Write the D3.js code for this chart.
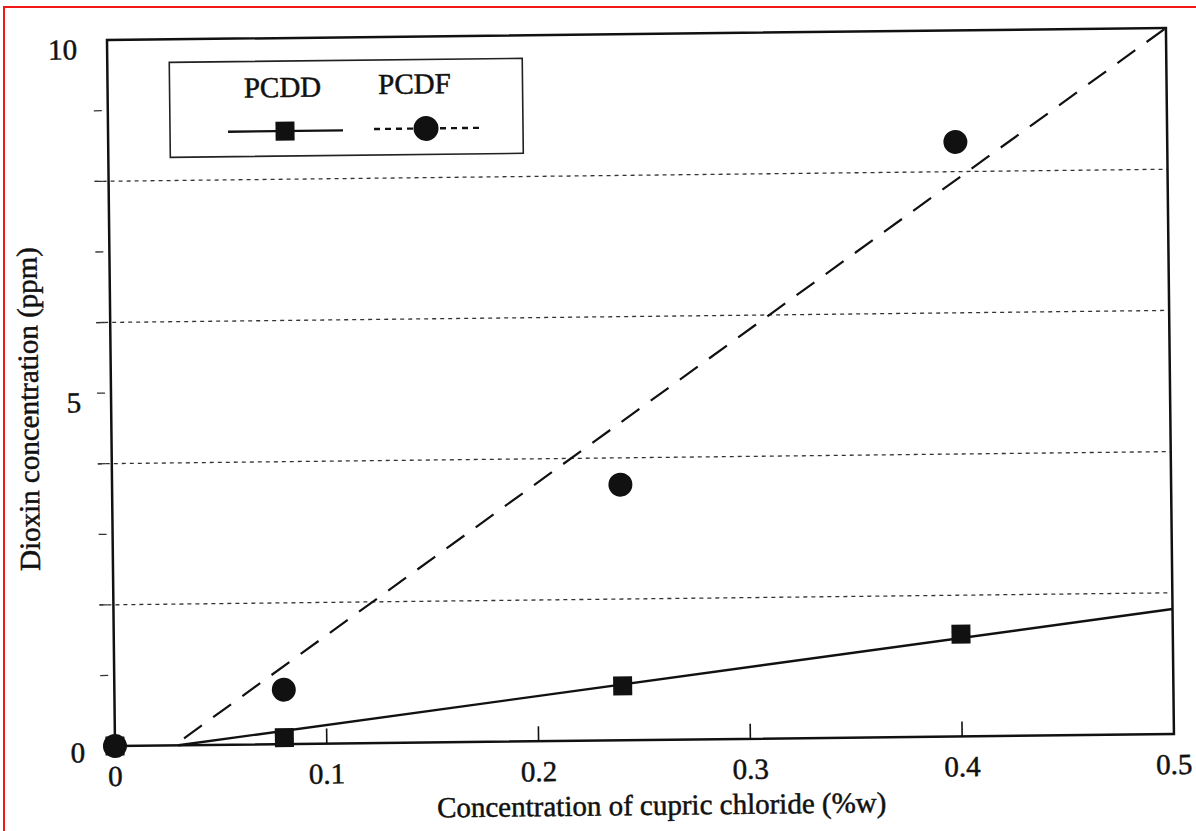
<!DOCTYPE html>
<html>
<head>
<meta charset="utf-8">
<script src="https://cdn.jsdelivr.net/npm/d3@7"></script>
<style>
	body { margin: 0; background: #fff; }
	svg { display: block; }
	text { font-family: 'Liberation Serif', 'Times New Roman', serif; fill: #111; stroke: #111; stroke-width: 0.5px; }
</style>
</head>
<body>
<div id="chart"></div>
<script>
// measured points (concentration of cupric chloride, %w)
const concentration = [0, 0.08, 0.24, 0.40];
const pcdd = [0, 0.09, 0.77, 1.45];
const pcdf = [0, 0.77, 3.62, 8.42];

// fitted lines, end points
const pcddFit = [[0.03, 0], [0.5, 1.77]];
const pcdfFit = [[0.028, 0], [0.5, 10]];

const xTicks = [0.1, 0.2, 0.3, 0.4];
const xLabels = [0, 0.1, 0.2, 0.3, 0.4, 0.5];
const yTicks = [1, 2, 3, 4, 5, 6, 7, 8, 9];
const yLabels = [0, 5, 10];
const yGrid = [2, 4, 6, 8];

const legendNames = ['PCDD', 'PCDF'];

const width = 1059;
const height = 706;
const fontSize = '29px';

const svg = d3
	.select('#chart')
	.append('svg')
	.attr('width', 1196)
	.attr('height', 831);

svg.append('rect').attr('width', 1196).attr('height', 831).style('fill', '#fff');

// red frame of the scan
svg
	.append('rect')
	.attr('x', 4)
	.attr('y', 7)
	.attr('width', 1400)
	.attr('height', 1000)
	.style('fill', 'none')
	.style('stroke', '#f01818')
	.style('stroke-width', 2);

// the scanned figure is slightly tilted
const g = svg
	.append('g')
	.attr('transform', `translate(115, 746) rotate(-0.65) translate(0, ${-height})`);

const xScale = d3.scaleLinear().domain([ 0, 0.5 ]).range([ 0, width ]);
const yScale = d3.scaleLinear().domain([ 0, 10 ]).range([ height, 0 ]);

// dotted grid
g
	.selectAll('.grid')
	.data(yGrid)
	.enter()
	.append('line')
	.attr('x1', -14)
	.attr('x2', width)
	.attr('y1', (d) => yScale(d))
	.attr('y2', (d) => yScale(d))
	.style('stroke', '#333')
	.style('stroke-width', 1.3)
	.style('stroke-dasharray', '4, 4');

// y ticks, detached from the axis
g
	.selectAll('.ytick')
	.data(yTicks)
	.enter()
	.append('line')
	.attr('x1', -14)
	.attr('x2', -6)
	.attr('y1', (d) => yScale(d))
	.attr('y2', (d) => yScale(d))
	.style('stroke', '#333')
	.style('stroke-width', 1.3);

// x ticks, inside
g
	.selectAll('.xtick')
	.data(xTicks)
	.enter()
	.append('line')
	.attr('x1', (d) => xScale(d))
	.attr('x2', (d) => xScale(d))
	.attr('y1', height)
	.attr('y2', height - 15)
	.style('stroke', '#111')
	.style('stroke-width', 1.6);

// frame
g
	.append('rect')
	.attr('width', width)
	.attr('height', height)
	.style('fill', 'none')
	.style('stroke', '#111')
	.style('stroke-width', 2.5);

// labels
g
	.selectAll('.xlabel')
	.data(xLabels)
	.enter()
	.append('text')
	.attr('x', (d) => xScale(d))
	.attr('y', height + 40)
	.attr('text-anchor', 'middle')
	.style('font-size', fontSize)
	.text((d) => d);

g
	.selectAll('.ylabel')
	.data(yLabels)
	.enter()
	.append('text')
	.attr('x', -30)
	.attr('y', (d) => yScale(d) + (d === 0 ? 16 : 19))
	.attr('text-anchor', 'end')
	.style('font-size', fontSize)
	.text((d) => d);

g
	.append('text')
	.attr('x', 546)
	.attr('y', height + 75)
	.attr('text-anchor', 'middle')
	.style('font-size', fontSize)
	.text('Concentration of cupric chloride (%w)');

g
	.append('text')
	.attr('transform', `translate(-73, ${height - 338}) rotate(-90)`)
	.attr('text-anchor', 'middle')
	.style('font-size', fontSize)
	.text('Dioxin concentration (ppm)');

// fitted lines
const line = d3.line().x((d) => xScale(d[0])).y((d) => yScale(d[1]));

g
	.append('path')
	.datum(pcddFit)
	.attr('d', line)
	.style('fill', 'none')
	.style('stroke', '#111')
	.style('stroke-width', 2.4);

g
	.append('path')
	.datum(pcdfFit)
	.attr('d', line)
	.style('fill', 'none')
	.style('stroke', '#111')
	.style('stroke-width', 2.2)
	.style('stroke-dasharray', '22, 14')
	.style('stroke-dashoffset', -12);

// markers
const squareSize = 19;

g
	.selectAll('.pcdd')
	.data(concentration)
	.enter()
	.append('rect')
	.attr('x', (d) => xScale(d) - squareSize / 2)
	.attr('y', (d, i) => yScale(pcdd[i]) - squareSize / 2)
	.attr('width', squareSize)
	.attr('height', squareSize)
	.style('fill', '#111');

g
	.selectAll('.pcdf')
	.data(concentration)
	.enter()
	.append('circle')
	.attr('cx', (d) => xScale(d))
	.attr('cy', (d, i) => yScale(pcdf[i]))
	.attr('r', 12)
	.style('fill', '#111');

// legend
const legend = g.append('g');

legend
	.append('rect')
	.attr('x', 62)
	.attr('y', 23)
	.attr('width', 353)
	.attr('height', 95)
	.style('fill', '#fff')
	.style('stroke', '#222')
	.style('stroke-width', 1.6);

legend
	.append('text')
	.attr('x', 175)
	.attr('y', 59)
	.attr('text-anchor', 'middle')
	.style('font-size', fontSize)
	.text(legendNames[0]);

legend
	.append('text')
	.attr('x', 307)
	.attr('y', 57)
	.attr('text-anchor', 'middle')
	.style('font-size', fontSize)
	.text(legendNames[1]);

legend
	.append('line')
	.attr('x1', 120)
	.attr('x2', 235)
	.attr('y1', 93)
	.attr('y2', 93)
	.style('stroke', '#111')
	.style('stroke-width', 2.4);

legend
	.append('rect')
	.attr('x', 177 - squareSize / 2)
	.attr('y', 93 - squareSize / 2)
	.attr('width', squareSize)
	.attr('height', squareSize)
	.style('fill', '#111');

legend
	.append('line')
	.attr('x1', 266)
	.attr('x2', 375)
	.attr('y1', 92)
	.attr('y2', 92)
	.style('stroke', '#111')
	.style('stroke-width', 2.4)
	.style('stroke-dasharray', '6, 5');

legend
	.append('circle')
	.attr('cx', 318)
	.attr('cy', 92)
	.attr('r', 12.5)
	.style('fill', '#111');
</script>
</body>
</html>
